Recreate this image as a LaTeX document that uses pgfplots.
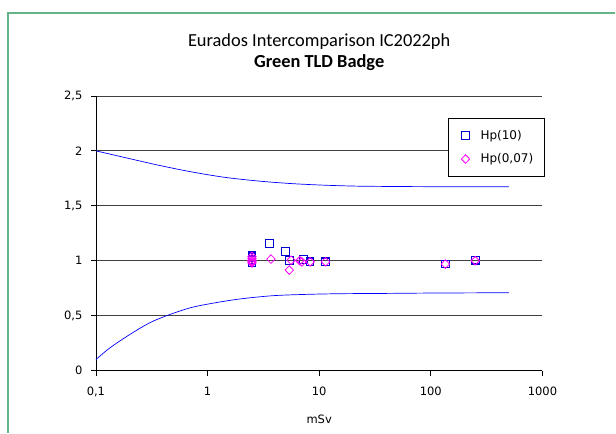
\documentclass[border=0pt]{standalone}
\usepackage{fontspec}
\setmainfont{Carlito}
\newfontfamily\dv{DejaVu Sans}
\usepackage{pgfplots}
\pgfplotsset{compat=1.18}
\definecolor{framegreen}{RGB}{100,180,135}
\definecolor{hpblue}{RGB}{0,0,210}
\definecolor{magentapt}{RGB}{255,0,255}
\pgfplotsset{myleg/.style={legend image code/.code={\path[draw=none] (0pt,0pt) (21pt,0pt);
  \draw plot[only marks] coordinates {(8pt,0pt)};}}}
\begin{document}
\begin{tikzpicture}
\path (0pt,0pt) rectangle (616pt,433pt);
\draw[framegreen, line width=1.2pt] (8pt,0pt) -- (8pt,420pt) -- (616pt,420pt);
\node[font=\fontsize{18.4}{20}\selectfont] at (319.5pt,391pt) {Eurados Intercomparison IC2022ph};
\node[font=\fontsize{18.4}{20}\selectfont\bfseries] at (319.5pt,370pt) {Green TLD Badge};
\node[font=\dv\fontsize{11.5}{13}\selectfont] at (319.5pt,13pt) {mSv};
\begin{axis}[
    at={(96pt,62pt)}, anchor=south west,
    scale only axis, width=447pt, height=275pt,
    xmode=log, xmin=0.1, xmax=1000, ymin=0, ymax=2.5,
    axis lines=left, axis line style={-, black, line width=0.8pt},
    xtick={0.1,1,10,100,1000}, xticklabels={0{,}1,1,10,100,1000},
    ytick={0,0.5,1,1.5,2,2.5}, yticklabels={0,{0,5},1,{1,5},2,{2,5}},
    xminorticks=false,
    ymajorgrids, grid style={black!75, line width=0.8pt},
    tick align=outside, major tick length=5pt,
    tick style={black, line width=0.8pt},
    tick label style={font=\dv\fontsize{11.5}{13}\selectfont},
    xticklabel style={yshift=-8pt},
    yticklabel style={xshift=-5pt},
    /pgf/number format/assume math mode=true,
    legend style={at={(1.0045,0.92)}, anchor=north east, draw=black,
        line width=0.6pt, font=\dv\fontsize{12}{14}\selectfont,
        inner xsep=9pt, inner ysep=10pt, row sep=9pt},
    legend cell align=left,
]
% trumpet curves
\addplot[blue, line width=0.7pt, smooth, forget plot] coordinates {
(0.1,2.0) (0.175,1.943) (0.35,1.873) (0.69,1.812) (1.38,1.761) (2.74,1.727)
(5.45,1.703) (10.8,1.688) (21.5,1.679) (42.7,1.676) (100,1.674) (500,1.673)
};
\addplot[blue, line width=0.7pt, smooth, forget plot] coordinates {
(0.1,0.1) (0.133,0.206) (0.2,0.327) (0.3,0.433) (0.43,0.5) (0.69,0.57)
(1.05,0.609) (1.94,0.652) (3.86,0.682) (7.7,0.694) (15.3,0.70) (42.7,0.703)
(100,0.706) (500,0.709)
};
% Hp(10)
\addplot[only marks, myleg, mark=square, mark size=3.8pt, color=hpblue, mark options={solid, color=hpblue, fill=none, line width=1.1pt}] coordinates {
(2.5,0.98) (2.5,1.0) (2.5,1.01) (2.5,1.03) (2.5,1.045)
(3.6,1.155) (5.0,1.085) (5.4,1.0) (7.2,1.01) (8.3,0.99) (11.4,0.99) (135,0.97) (250,1.005)
};
% Hp(0,07)
\addplot[only marks, myleg, mark=diamond, mark size=4.3pt, color=magentapt, mark options={solid, color=magentapt, fill=none, line width=0.8pt, xscale=1.3}] coordinates {
(2.5,0.98) (2.5,0.99) (2.5,1.0) (2.5,1.02) (2.5,1.04)
(3.7,1.015) (5.4,0.915) (5.6,1.005) (6.7,1.0) (7.0,0.99) (8.3,0.99) (11.4,0.99) (135,0.97) (250,1.0)
};
\legend{Hp(10),{Hp(0,07)}}
\end{axis}
\end{tikzpicture}
\end{document}
